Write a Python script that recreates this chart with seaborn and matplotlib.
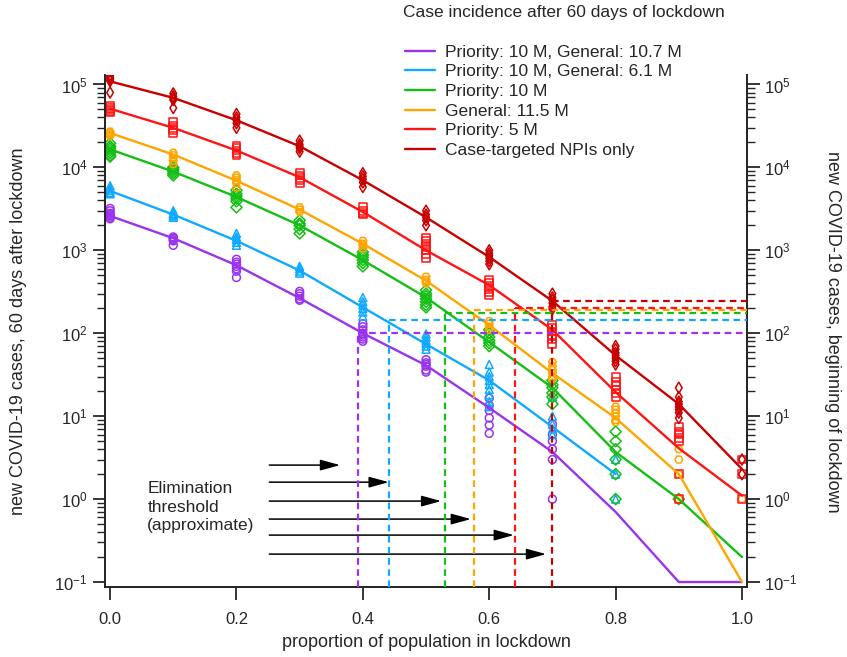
import numpy as np
import pandas as pd
import matplotlib
matplotlib.use("Agg")
import matplotlib.pyplot as plt
from matplotlib.ticker import FixedLocator, NullFormatter
import seaborn as sns

sns.set_style("ticks")
plt.rcParams['font.family'] = ['Liberation Sans', 'DejaVu Sans']
plt.rcParams['mathtext.fontset'] = 'custom'
plt.rcParams['mathtext.rm'] = 'Liberation Sans'
plt.rcParams['mathtext.it'] = 'Liberation Sans:italic'

# proportion of population in lockdown
frac = [0.0, 0.1, 0.2, 0.3, 0.4, 0.5, 0.6, 0.7, 0.8, 0.9, 1.0]

scenarios = ["Priority: 10 M, General: 10.7 M",
             "Priority: 10 M, General: 6.1 M",
             "Priority: 10 M",
             "General: 11.5 M",
             "Priority: 5 M",
             "Case-targeted NPIs only"]
colors = ["#9933EE", "#0FAAFF", "#14BE14", "#FFA500", "#FF1414", "#C80000"]
markers = ["o", "^", "D", "H", "s", "d"]

# summary lines (new cases 60 days after lockdown)
line_purple = [2600, 1400, 660, 265, 100, 41, 12.6, 3.7, 0.7, 0.1, 0.1]
line_blue = [5200, 2700, 1300, 570, 205, 74, 27, 7.4, 2.0, np.nan, np.nan]
line_green = [16500, 8900, 4400, 2000, 760, 270, 78, 22, 3.7, 1.0, 0.2]
line_orange = [26000, 14300, 6900, 3100, 1200, 430, 125, 33, 9.5, 2.0, 0.1]
line_red = [51000, 30000, 16000, 7600, 2900, 1000, 380, 110, 19.5, 4.1, 1.1]
line_darkred = [109000, 69000, 37000, 18000, 7000, 2500, 830, 245, 54, 14, 2.3]

# individual runs at each lockdown proportion
runs_purple = [[3200, 3000, 2800, 2700, 2600, 2500, 2400],
               [1450, 1400, 1350, 1300, 1150],
               [780, 720, 680, 640, 600, 560, 470],
               [320, 300, 280, 260, 250],
               [130, 120, 110, 100, 95, 90, 85, 80],
               [48, 44, 42, 40, 36, 34],
               [16.5, 13.5, 11.7, 9.5, 7.8, 6.2],
               [8, 6, 5, 4, 3, 1],
               [], [], []]
runs_blue = [[6000, 5600, 5300, 5000, 4800],
             [3000, 2800, 2700, 2600, 2500],
             [1600, 1450, 1350, 1250, 1150],
             [640, 600, 560, 530],
             [270, 240, 220, 200, 180, 160],
             [98, 90, 82, 76, 70, 64],
             [42, 34, 30, 27, 24, 21, 18, 15, 13],
             [17, 10, 8, 7, 6],
             [3, 2, 1],
             [], []]
runs_green = [[19500, 18000, 17000, 16000, 15000, 14000, 13500],
              [10000, 9500, 9000, 8500, 8000],
              [5300, 4800, 4500, 4200, 3900, 3300],
              [2300, 2100, 2000, 1800, 1600],
              [950, 880, 820, 760, 700, 640],
              [330, 300, 280, 260, 240, 220, 205],
              [110, 100, 90, 82, 76, 70],
              [27, 24, 22, 19, 17, 14],
              [6.5, 5, 4, 3, 2, 1],
              [1],
              []]
runs_orange = [[27000, 26000, 25000, 24000],
               [15000, 14000, 13000, 12000, 11000],
               [8000, 7500, 7000, 6500, 5700],
               [3300, 3100, 2900],
               [1300, 1200, 1150, 1050],
               [480, 440, 420, 400],
               [140, 130, 120, 110],
               [45, 40, 36, 33, 30, 28],
               [13, 12, 11, 10, 9, 8.5],
               [4, 3, 2, 1],
               [1]]
runs_red = [[55000, 52000, 50000, 48000, 46000],
            [35000, 32000, 30000, 28000, 26000],
            [18000, 17000, 16000, 15000, 14000],
            [8500, 8000, 7500, 7000, 6500],
            [3300, 3000, 2800, 2700],
            [1400, 1300, 1200, 1100, 1000, 900, 800],
            [440, 400, 370, 340, 310, 290],
            [125, 115, 105, 95, 85, 75],
            [30, 26, 23, 21, 19, 17],
            [7.5, 6.5, 6, 5.5, 5, 2, 1],
            [3, 2, 1]]
runs_darkred = [[130000, 125000, 120000, 115000, 110000, 80000],
                [78000, 72000, 68000, 65000, 52000],
                [44000, 40000, 37000, 34000, 30000],
                [21000, 19000, 18000, 17000, 15500],
                [8500, 7800, 7200, 6600, 5800],
                [3000, 2700, 2500, 2300, 2000],
                [1000, 920, 860, 800, 740, 680],
                [300, 270, 250, 230, 210, 195],
                [70, 64, 58, 54, 50, 46, 42],
                [22, 17, 15, 14, 13, 12, 11, 9.5],
                [3, 2]]

# elimination thresholds (proportion, cases at beginning of lockdown)
thr_x = [0.392, 0.441, 0.530, 0.576, 0.641, 0.700]
thr_y = [101, 146, 176, 189, 204, 243]

# annotation arrows
arrow_start = 0.252
arrow_tip = [0.364, 0.441, 0.524, 0.571, 0.639, 0.690]
arrow_y = [2.57, 1.6, 0.946, 0.574, 0.368, 0.217]

lines = [line_purple, line_blue, line_green, line_orange, line_red, line_darkred]
runs = [runs_purple, runs_blue, runs_green, runs_orange, runs_red, runs_darkred]

line_df = pd.DataFrame([(s, f, v) for s, l in zip(scenarios, lines)
                        for f, v in zip(frac, l)],
                       columns=["scenario", "frac", "cases"]).dropna()
runs_df = pd.DataFrame([(s, f, v) for s, r in zip(scenarios, runs)
                        for f, vals in zip(frac, r) for v in vals],
                       columns=["scenario", "frac", "cases"])

fig = plt.figure(figsize=(8.47, 6.57), dpi=100)
ax = fig.add_axes([0.124, 0.1065, 0.758, 0.7793])
ax.set_yscale("log")
ymin, ymax = 0.087, 1.3e5
xmin, xmax = -0.008, 1.008

for s, c, m in zip(scenarios, colors, markers):
    sub = runs_df[runs_df.scenario == s]
    sns.scatterplot(data=sub, x="frac", y="cases", marker=m, s=32,
                    color=c, facecolor="none", edgecolor=c, linewidth=1.1,
                    ax=ax, zorder=2)

handles = []
for s, c in zip(scenarios, colors):
    sub = line_df[line_df.scenario == s]
    sns.lineplot(data=sub, x="frac", y="cases", color=c, lw=1.7,
                 ax=ax, zorder=3)
    handles.append(ax.lines[-1])

for xt, yt, c in zip(thr_x, thr_y, colors):
    ax.plot([xt, xmax], [yt, yt], color=c, lw=1.6, ls=(0, (3, 2)), zorder=4,
            clip_on=False)
    ax.plot([xt, xt], [ymin, yt], color=c, lw=1.6, ls=(0, (3, 2)), zorder=4)

for tip, yy in zip(arrow_tip, arrow_y):
    ax.annotate("", xy=(tip, yy), xytext=(arrow_start, yy),
                arrowprops=dict(arrowstyle="-|>,head_length=1.2,head_width=0.33",
                                lw=1.1, color="black", shrinkA=0, shrinkB=0))
ax.text(0.059, 1.65, "Elimination\nthreshold\n(approximate)", fontsize=12.5,
        va="top", ha="left", linespacing=1.3)

ax.set_xlim(xmin, xmax)
ax.set_ylim(ymin, ymax)
ax.set_xticks([0.0, 0.2, 0.4, 0.6, 0.8, 1.0])
ax.set_xticklabels(["0.0", "0.2", "0.4", "0.6", "0.8", "1.0"])
decades = [-1, 0, 1, 2, 3, 4, 5]
ax.yaxis.set_major_locator(FixedLocator([10.0 ** d for d in decades]))
ax.set_yticklabels([f"$10^{{{d}}}$" for d in decades])
ax.yaxis.set_minor_locator(FixedLocator([k * 10.0 ** d for d in decades[:-1]
                                         for k in range(2, 10)]))
ax.yaxis.set_minor_formatter(NullFormatter())
ax.set_xlabel("proportion of population in lockdown", fontsize=13, labelpad=5)
ax.set_ylabel("new COVID-19 cases, 60 days after lockdown", fontsize=13, labelpad=20)
ax.tick_params(axis="both", which="major", labelsize=12, length=9, width=1.1,
               direction="out", color="black")
ax.tick_params(axis="x", pad=9)
ax.tick_params(axis="y", which="both", left=True, right=True,
               labelleft=True, labelright=True)
ax.tick_params(axis="y", which="minor", length=5.5, width=1.0, direction="out")
for sp in ["left", "bottom", "right"]:
    ax.spines[sp].set_linewidth(1.4)
    ax.spines[sp].set_color("#222222")
ax.spines["top"].set_visible(False)

fig.text(832 / 847, 0.4955, "new COVID-19 cases, beginning of lockdown",
         fontsize=13, rotation=270, ha="center", va="center")

fig.text(403 / 847, 1 - 12 / 657, "Case incidence after 60 days of lockdown",
         fontsize=12.5, ha="left", va="center")
ax.legend(handles, scenarios, loc="upper left", frameon=False, fontsize=12.5,
          bbox_to_anchor=(405 / 847, 1 - 44.5 / 657), bbox_transform=fig.transFigure,
          borderpad=0, borderaxespad=0, handlelength=1.75, handletextpad=0.55,
          labelspacing=0.26)

fig.savefig("out.png", dpi=100)
